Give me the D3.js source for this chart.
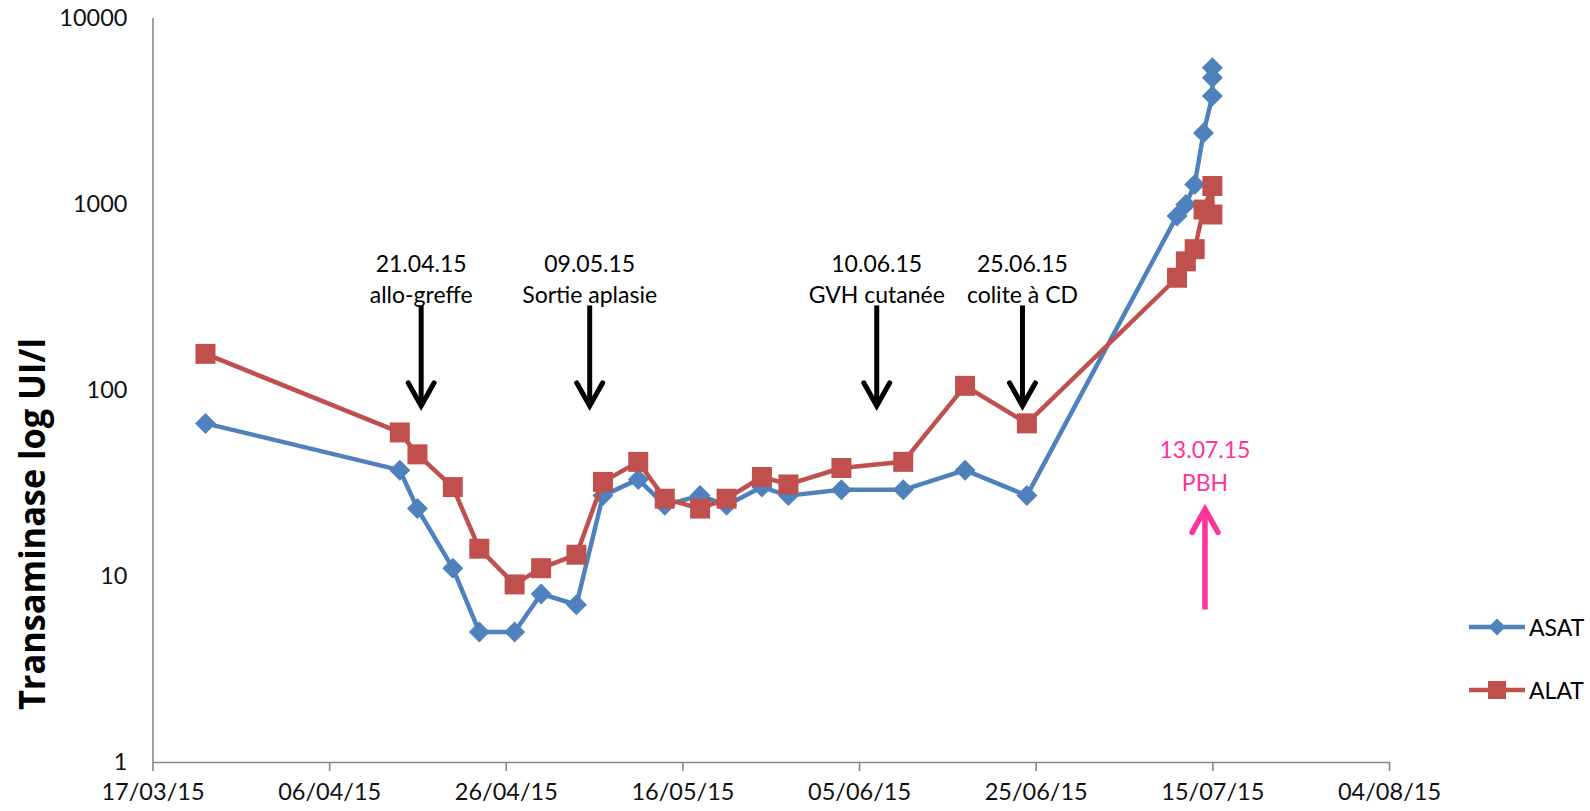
<!DOCTYPE html>
<html>
<head>
<meta charset="utf-8">
<script src="https://cdn.jsdelivr.net/npm/d3@7"></script>
<style>
  html, body { margin: 0; padding: 0; background: #fff; }
  svg { display: block; }
</style>
</head>
<body>
<svg id="chart" width="1590" height="811"></svg>
<script>
// ---------- DATA ----------
const asatDates = ["2015-03-23","2015-04-14","2015-04-16","2015-04-20","2015-04-23","2015-04-27","2015-04-30",
  "2015-05-04","2015-05-07","2015-05-11","2015-05-14","2015-05-18","2015-05-21","2015-05-25","2015-05-28",
  "2015-06-03","2015-06-10","2015-06-17","2015-06-24","2015-07-11","2015-07-12","2015-07-13","2015-07-14",
  "2015-07-15","2015-07-15","2015-07-15"];
const asatValues = [66, 37, 23, 11, 5, 5, 8, 7, 27, 33, 24, 27, 24, 30, 27, 29, 29, 37, 27,
  860, 990, 1270, 2400, 3790, 4750, 5380];

const alatDates = ["2015-03-23","2015-04-14","2015-04-16","2015-04-20","2015-04-23","2015-04-27","2015-04-30",
  "2015-05-04","2015-05-07","2015-05-11","2015-05-14","2015-05-18","2015-05-21","2015-05-25","2015-05-28",
  "2015-06-03","2015-06-10","2015-06-17","2015-06-24","2015-07-11","2015-07-12","2015-07-13","2015-07-14",
  "2015-07-15","2015-07-15"];
const alatValues = [156, 59, 45, 30, 14, 9, 11, 13, 32, 41, 26, 23, 26, 34, 31, 38, 41, 105, 66,
  400, 490, 570, 930, 1245, 875];

const xTickLabels = ["2015-03-17","2015-04-06","2015-04-26","2015-05-16","2015-06-05","2015-06-25","2015-07-15","2015-08-04"];
const yTickValues = [1, 10, 100, 1000, 10000];

const seriesNames = ["ASAT", "ALAT"];
const seriesColors = ["#4f81bd", "#c0504d"];

// event annotations (arrow date, two text lines)
const eventDates = ["2015-04-16T10:00","2015-05-05T12:00","2015-06-07T00:00","2015-06-23T12:00"];
const eventLine1 = ["21.04.15","09.05.15","10.06.15","25.06.15"];
const eventLine2 = ["allo-greffe","Sortie aplasie","GVH cutanée","colite à CD"];
const biopsyDate = "2015-07-14T04:00";
const biopsyLines = ["13.07.15","PBH"];

// ---------- CHART ----------
const parse = d3.utcParse("%Y-%m-%d");
const parseT = d3.utcParse("%Y-%m-%dT%H:%M");
const svg = d3.select("#chart");

const x = d3.scaleUtc()
  .domain([parse(xTickLabels[0]), parse(xTickLabels[xTickLabels.length - 1])])
  .range([152.5, 1389]);
const y = d3.scaleLog().domain([1, 10000]).range([762, 17.6]);

// x axis
const xAxis = svg.append("g")
  .attr("transform", `translate(0,${y(1)})`)
  .call(d3.axisBottom(x)
    .tickValues(xTickLabels.map(parse))
    .tickFormat(d3.utcFormat("%d/%m/%y"))
    .tickSize(9).tickSizeOuter(0).tickPadding(12));
xAxis.select(".domain").attr("stroke", "#888").attr("stroke-width", 1.6);
xAxis.selectAll(".tick line").attr("stroke", "#888").attr("stroke-width", 1.6);
xAxis.selectAll(".tick text")
  .attr("font-family", "Lato, sans-serif").attr("font-size", 23.5).attr("fill", "#111");

// y axis
const yAxis = svg.append("g")
  .attr("transform", `translate(${x.range()[0]},0)`)
  .call(d3.axisLeft(y)
    .tickValues(yTickValues)
    .tickFormat(d3.format("d"))
    .tickSize(0).tickSizeOuter(0).tickPadding(25));
yAxis.select(".domain").attr("stroke", "#888").attr("stroke-width", 1.6);
yAxis.selectAll(".tick text")
  .attr("font-family", "Lato, sans-serif").attr("font-size", 23.5).attr("fill", "#111");

// y axis title
svg.append("text")
  .attr("transform", `translate(45,524) rotate(-90)`)
  .attr("text-anchor", "middle")
  .attr("font-family", "'Open Sans', sans-serif")
  .attr("font-weight", "bold")
  .attr("font-size", 35)
  .attr("textLength", 372)
  .attr("lengthAdjust", "spacingAndGlyphs")
  .attr("fill", "#000")
  .text("Transaminase log UI/l");

// series
const asat = asatDates.map((d, i) => ({ date: parse(d), value: asatValues[i] }));
const alat = alatDates.map((d, i) => ({ date: parse(d), value: alatValues[i] }));
const line = d3.line().x(d => x(d.date)).y(d => y(d.value));

const diamond = r => `M0,${-r}L${r},0L0,${r}L${-r},0Z`;

function drawSeries(data, color, shape) {
  const g = svg.append("g");
  g.append("path").datum(data)
    .attr("d", line).attr("fill", "none")
    .attr("stroke", color).attr("stroke-width", 4.5)
    .attr("stroke-linejoin", "round");
  const m = g.selectAll("path.mk").data(data).enter().append("path")
    .attr("class", "mk")
    .attr("transform", d => `translate(${x(d.date)},${y(d.value)})`)
    .attr("fill", color);
  if (shape === "diamond") m.attr("d", diamond(10.5));
  else m.attr("d", "M-10,-10H10V10H-10Z");
}
drawSeries(asat, seriesColors[0], "diamond");
drawSeries(alat, seriesColors[1], "square");

// event annotations
function arrow(g, cx, yFrom, yTo, color, w) {
  const dir = yTo > yFrom ? 1 : -1;
  g.append("line").attr("x1", cx).attr("x2", cx).attr("y1", yFrom).attr("y2", yTo - dir * 2)
    .attr("stroke", color).attr("stroke-width", w);
  g.append("path")
    .attr("d", `M${cx - 13},${yTo - dir * 23}L${cx},${yTo}L${cx + 13},${yTo - dir * 23}`)
    .attr("fill", "none").attr("stroke", color).attr("stroke-width", w)
    .attr("stroke-linejoin", "miter").attr("stroke-linecap", "round");
}

const ev = svg.append("g");
eventDates.forEach((d, i) => {
  const cx = x(parseT(d));
  arrow(ev, cx, y(284), y(82), "#000", 5);
  ev.append("text").attr("x", cx).attr("y", 272).attr("text-anchor", "middle")
    .attr("font-family", "Lato, sans-serif").attr("font-size", 23).attr("fill", "#000")
    .text(eventLine1[i]);
  ev.append("text").attr("x", cx).attr("y", 303).attr("text-anchor", "middle")
    .attr("font-family", "Lato, sans-serif").attr("font-size", 23).attr("fill", "#000")
    .text(eventLine2[i]);
});

// biopsy annotation (pink)
const bx = x(parseT(biopsyDate));
arrow(ev, bx, y(6.6), y(22.8), "#ff3399", 5.5);
biopsyLines.forEach((t, i) => {
  ev.append("text").attr("x", bx).attr("y", 458 + i * 33).attr("text-anchor", "middle")
    .attr("font-family", "Lato, sans-serif").attr("font-size", 23).attr("fill", "#ff3399")
    .text(t);
});

// legend
const leg = svg.append("g");
seriesNames.forEach((name, i) => {
  const ly = 627 + i * 63;
  leg.append("line").attr("x1", 1469).attr("x2", 1525).attr("y1", ly).attr("y2", ly)
    .attr("stroke", seriesColors[i]).attr("stroke-width", 4.5);
  const mk = leg.append("path").attr("transform", `translate(1497,${ly})`).attr("fill", seriesColors[i]);
  if (i === 0) mk.attr("d", diamond(8.5)); else mk.attr("d", "M-9,-9H9V9H-9Z");
  leg.append("text").attr("x", 1529).attr("y", ly + 8.5)
    .attr("font-family", "Lato, sans-serif").attr("font-size", 23).attr("fill", "#000")
    .text(name);
});
</script>
</body>
</html>
